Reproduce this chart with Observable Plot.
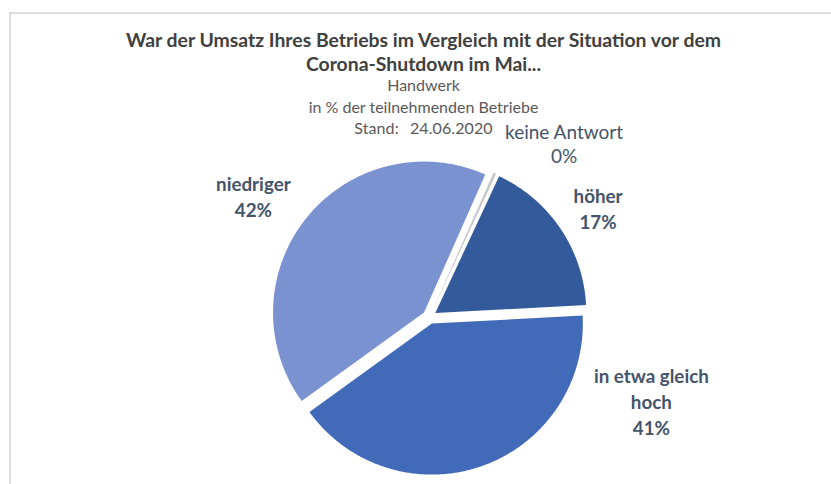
<!DOCTYPE html>
<html>
<head>
<meta charset="utf-8">
<script src="https://cdn.jsdelivr.net/npm/d3@7"></script>
<script src="https://cdn.jsdelivr.net/npm/@observablehq/plot@0.6"></script>
<style>
  html, body { margin: 0; padding: 0; background: #fff; }
  body { width: 831px; height: 484px; overflow: hidden; position: relative; font-family: Lato, "Open Sans", sans-serif; }
  #frame { position: absolute; left: 9px; top: 12px; width: 830px; height: 480px; border-top: 2px solid #dcdcdc; border-left: 2px solid #dcdcdc; }
  #chart { position: absolute; left: 0; top: 0; }
  .title { position: absolute; left: 0; width: 847px; text-align: center; color: #404040; font-weight: bold; font-size: 19.4px; line-height: 24px; top: 28px; }
  .sub { position: absolute; left: 0; width: 847px; text-align: center; color: #595959; font-size: 16px; line-height: 21.5px; top: 74px; }
  .sub div:last-child { word-spacing: 7px; letter-spacing: 0.1px; }
</style>
</head>
<body>
<div id="frame"></div>
<div id="chart"></div>
<div class="title" id="title"></div>
<div class="sub" id="sub"></div>
<script>
// ---- data ----
const categories = ["höher", "in etwa gleich hoch", "niedriger", "keine Antwort"];
const labelNames = ["höher", "in etwa gleich\nhoch", "niedriger", "keine Antwort"];
const shares = [17.2, 40.9, 41.6, 0.3];
const shareLabels = ["17%", "41%", "42%", "0%"];
const titleLines = ["War der Umsatz Ihres Betriebs im Vergleich mit der Situation vor dem", "Corona-Shutdown im Mai..."];
const subtitleLines = ["Handwerk", "in % der teilnehmenden Betriebe", "Stand: 24.06.2020"];

// ---- styles / layout ----
const colors = ["#335a9a", "#416bb8", "#7a93d0", "#c8c8c8"];
const labelBold = [true, true, true, false];
const labelAngleDeg = [57, 110.6, 304.6, 37.7];
const labelDist = [201, 237, 214, 220];
const W = 831, H = 484, cx = 429, cy = 316.5, R = 151, explode = 7, startDeg = 25;

document.getElementById("title").innerHTML = titleLines.join("<br>");
const sub = document.getElementById("sub");
subtitleLines.forEach(s => { const d = document.createElement("div"); d.textContent = s; sub.appendChild(d); });

const rad = d => d * Math.PI / 180;
const rows = categories.map((c, i) => ({cat: c, share: shares[i]}));
const arcs = d3.pie().sort(null).value(d => d.share)
  .startAngle(rad(startDeg)).endAngle(rad(startDeg + 360))(rows);

const pts = [];
arcs.forEach(a => {
  const mid = (a.startAngle + a.endAngle) / 2;
  const ox = cx + explode * Math.sin(mid), oy = cy - explode * Math.cos(mid);
  pts.push({cat: a.data.cat, x: ox, y: oy});
  const n = Math.max(2, Math.ceil((a.endAngle - a.startAngle) / rad(0.5)));
  for (let i = 0; i <= n; i++) {
    const t = a.startAngle + (a.endAngle - a.startAngle) * i / n;
    pts.push({cat: a.data.cat, x: ox + R * Math.sin(t), y: oy - R * Math.cos(t)});
  }
});

const labels = categories.map((c, i) => ({
  text: labelNames[i] + "\n" + shareLabels[i],
  bold: labelBold[i],
  x: cx + labelDist[i] * Math.sin(rad(labelAngleDeg[i])),
  y: cy - labelDist[i] * Math.cos(rad(labelAngleDeg[i]))
}));

const chart = Plot.plot({
  width: W, height: H,
  margin: 0,
  x: {domain: [0, W], range: [0, W], axis: null},
  y: {domain: [0, H], range: [0, H], axis: null},
  color: {domain: categories, range: colors},
  style: {background: "transparent"},
  marks: [
    Plot.line(pts, {x: "x", y: "y", z: "cat", fill: "cat", stroke: "none", curve: "linear"}),
    Plot.text(labels.filter(d => d.bold), {x: "x", y: "y", text: "text", fill: "#44546a", fontSize: 18.8, fontWeight: "bold", lineHeight: 1.38, fontFamily: "Lato"}),
    Plot.text(labels.filter(d => !d.bold), {x: "x", y: "y", text: "text", fill: "#44546a", fontSize: 19, lineHeight: 1.26, fontFamily: "Lato"})
  ]
});
document.getElementById("chart").appendChild(chart);
</script>
</body>
</html>
